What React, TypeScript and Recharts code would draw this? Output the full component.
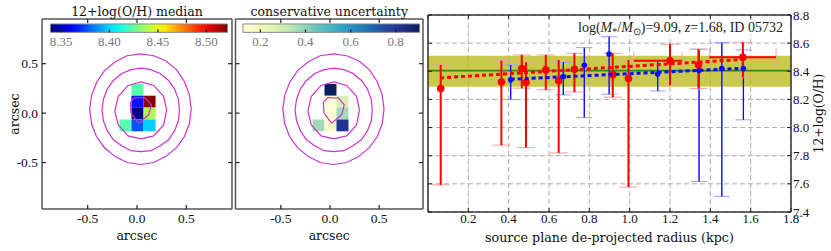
import React from "react";
import {
  ScatterChart,
  Scatter,
  XAxis,
  YAxis,
  ErrorBar,
  CartesianGrid,
  ReferenceArea,
  ReferenceLine,
  ReferenceDot,
} from "recharts";

const LABEL_FONT = "'DejaVu Serif', serif";
const NUM_FONT = "'Liberation Serif', serif";

// ---- map panels (arcsec grid) ----
const mapTicks = [-0.5, 0, 0.5];
const cellX = [0.005, 0.005, 0.127, 0.005, 0.127, -0.117, 0.005, 0.127];
const cellY = [0.235, 0.116, 0.116, -0.003, -0.003, -0.124, -0.124, -0.124];
const medianVals = [8.423, 8.365, 8.52, 8.34, 8.439, 8.423, 8.377, 8.399];
const uncertVals = [0.9, 0.14, 0.27, 0.14, 0.37, 0.37, 0.16, 0.81];
const medianCbTicks = [8.35, 8.4, 8.45, 8.5];
const uncertCbTicks = [0.2, 0.4, 0.6, 0.8];

const contourOuter: [number, number][] = [
  [0.55, 0.04], [0.53, 0.19], [0.48, 0.32], [0.4, 0.44], [0.29, 0.53], [0.17, 0.58], [0.035, 0.6],
  [-0.1, 0.58], [-0.22, 0.52], [-0.33, 0.43], [-0.41, 0.31], [-0.46, 0.18], [-0.48, 0.04],
  [-0.46, -0.11], [-0.41, -0.24], [-0.33, -0.35], [-0.22, -0.44], [-0.1, -0.5], [0.035, -0.52],
  [0.17, -0.5], [0.29, -0.44], [0.4, -0.35], [0.48, -0.24], [0.53, -0.11], [0.55, 0.04],
];
const contourMid: [number, number][] = [
  [0.43, 0.03], [0.42, 0.14], [0.38, 0.245], [0.32, 0.33], [0.235, 0.4], [0.14, 0.44], [0.04, 0.455],
  [-0.06, 0.44], [-0.155, 0.4], [-0.24, 0.33], [-0.3, 0.245], [-0.34, 0.14], [-0.355, 0.03],
  [-0.34, -0.08], [-0.3, -0.18], [-0.24, -0.27], [-0.155, -0.33], [-0.06, -0.38], [0.04, -0.39],
  [0.14, -0.38], [0.235, -0.33], [0.32, -0.27], [0.38, -0.18], [0.42, -0.08], [0.43, 0.03],
];
const contourInner: [number, number][] = [
  [0.3, 0.03], [0.27, 0.17], [0.17, 0.28], [0.04, 0.315], [-0.09, 0.28], [-0.19, 0.17],
  [-0.225, 0.02], [-0.19, -0.12], [-0.09, -0.23], [0.04, -0.26], [0.17, -0.23], [0.27, -0.12], [0.3, 0.03],
];
const contourCore: [number, number][] = [
  [-0.068, 0.107], [-0.024, 0.158], [0.087, 0.152], [0.145, 0.084], [0.118, -0.017], [0.016, -0.101], [-0.061, 0.0], [-0.068, 0.107],
];
const contours = [contourOuter, contourMid, contourInner, contourCore];

// ---- gradient panel ----
const xTicks = [0, 0.2, 0.4, 0.6, 0.8, 1.0, 1.2, 1.4, 1.6, 1.8];
const yTicks = [7.4, 7.6, 7.8, 8.0, 8.2, 8.4, 8.6, 8.8];

const redR = [0.063, 0.364, 0.465, 0.486, 0.584, 0.648, 0.726, 0.916, 0.994, 1.2, 1.341, 1.561];
const redZ = [8.277, 8.324, 8.42, 8.32, 8.41, 8.332, 8.414, 8.376, 8.348, 8.474, 8.445, 8.5];
const redHi = [8.445, 8.476, 8.516, 8.464, 8.516, 8.48, 8.528, 8.528, 8.48, 8.592, 8.557, 8.606];
const redLo = [7.593, 7.875, 8.28, 7.858, 8.268, 7.82, 8.253, 8.216, 7.577, 8.3, 8.277, 8.358];
const redRLo = [0, 0, 0, 0, 0, 0, 0, 0, 0, 1.02, 0, 1.395];
const redRHi = [0, 0, 0, 0, 0, 0, 0, 0, 0, 1.26, 0, 1.726];

const blueR = [0.41, 0.671, 0.775, 0.898, 1.139, 1.344, 1.457, 1.564];
const blueZ = [8.339, 8.362, 8.443, 8.523, 8.381, 8.405, 8.42, 8.42];
const blueHi = [8.445, 8.464, 8.568, 8.646, 8.476, 8.557, 8.604, 8.552];
const blueLo = [8.2, 8.232, 8.071, 8.237, 8.26, 7.617, 7.511, 8.055];

const fitRedR = [0.06, 1.57];
const fitRedZ = [8.353, 8.485];
const fitBlueR = [0.41, 1.57];
const fitBlueZ = [8.343, 8.422];

const medianZ = 8.405;
const bandLo = 8.29;
const bandHi = 8.51;

// ---- colour maps ----
const clamp = (v: number) => Math.max(0, Math.min(1, v));
const rgb = (r: number, g: number, b: number) =>
  `rgb(${Math.round(r * 255)},${Math.round(g * 255)},${Math.round(b * 255)})`;
const jet = (t: number) =>
  rgb(clamp(1.5 - Math.abs(4 * t - 3)), clamp(1.5 - Math.abs(4 * t - 2)), clamp(1.5 - Math.abs(4 * t - 1)));
const ylgnbuStops = ["#ffffd9", "#edf8b1", "#c7e9b4", "#7fcdbb", "#41b6c4", "#1d91c0", "#225ea8", "#253494", "#081d58"];
const hex = (h: string) => [1, 3, 5].map((i) => parseInt(h.slice(i, i + 2), 16) / 255);
const ylgnbu = (t: number) => {
  const s = clamp(t) * (ylgnbuStops.length - 1);
  const i = Math.min(Math.floor(s), ylgnbuStops.length - 2);
  const f = s - i;
  const a = hex(ylgnbuStops[i]);
  const b = hex(ylgnbuStops[i + 1]);
  return rgb(a[0] + (b[0] - a[0]) * f, a[1] + (b[1] - a[1]) * f, a[2] + (b[2] - a[2]) * f);
};
const gradSteps = Array.from({ length: 21 }, (_, i) => i / 20);

const hideTick = () => "";

interface MapPanelProps {
  left: number;
  width: number;
  margin: { top: number; right: number; bottom: number; left: number };
  leftWidth: number;
  xDomain: [number, number];
  title: string;
  values: number[];
  cmap: (t: number) => string;
  vmin: number;
  vmax: number;
  cbX: [number, number];
  cbTicks: number[];
  cbDigits: number;
  gid: string;
  showY: boolean;
}

function MapPanel(p: MapPanelProps) {
  const cbPos = (v: number) => p.cbX[0] + ((v - p.vmin) / (p.vmax - p.vmin)) * (p.cbX[1] - p.cbX[0]);
  const frame = "#555";
  const axisCommon = {
    type: "number" as const,
    allowDataOverflow: true,
    ticks: mapTicks,
    stroke: frame,
    tickSize: -4,
    tickLine: { stroke: "#222", strokeWidth: 1.2 },
  };
  return (
    <div style={{ position: "absolute", left: p.left, top: 0, fontFamily: LABEL_FONT }}>
      <ScatterChart width={p.width} height={251} margin={p.margin}>
        <defs>
          <linearGradient id={p.gid} x1="0" y1="0" x2="1" y2="0">
            {gradSteps.map((t) => (
              <stop key={t} offset={t} stopColor={p.cmap(t)} />
            ))}
          </linearGradient>
        </defs>
        <XAxis
          {...axisCommon}
          xAxisId="b"
          dataKey="x"
          domain={p.xDomain}
          height={42}
          tickMargin={8}
          strokeWidth={1.5}
          tickFormatter={(v: number) => v.toFixed(1)}
          tick={{ fill: "#111", fontSize: 13.5, fontFamily: NUM_FONT }}
          label={{ value: "arcsec", position: "insideBottom", offset: 11, fill: "#111", fontSize: 12.5 }}
        />
        <XAxis
          {...axisCommon}
          xAxisId="t"
          orientation="top"
          dataKey="x"
          domain={p.xDomain}
          height={19}
          strokeWidth={1.5}
          tickFormatter={hideTick}
          label={{ value: p.title, position: "insideTop", offset: 7, fill: "#111", fontSize: 12.5 }}
        />
        <YAxis
          {...axisCommon}
          yAxisId="l"
          dataKey="y"
          domain={[-0.97, 0.952]}
          width={p.leftWidth}
          tickMargin={8}
          strokeWidth={1.5}
          tickFormatter={p.showY ? (v: number) => v.toFixed(1) : hideTick}
          tick={{ fill: "#111", fontSize: 13.5, fontFamily: NUM_FONT }}
          label={
            p.showY
              ? { value: "arcsec", angle: -90, position: "center", dx: -6, fill: "#111", fontSize: 12.5 }
              : undefined
          }
        />
        <YAxis
          {...axisCommon}
          yAxisId="r"
          orientation="right"
          dataKey="y"
          domain={[-0.97, 0.952]}
          width={1}
          strokeWidth={1.5}
          tickFormatter={hideTick}
        />
        {cellX.map((cx, i) => (
          <ReferenceArea
            key={`c${i}`}
            xAxisId="b"
            yAxisId="l"
            x1={cx - 0.061}
            x2={cx + 0.061}
            y1={cellY[i] - 0.06}
            y2={cellY[i] + 0.06}
            fill={p.cmap((p.values[i] - p.vmin) / (p.vmax - p.vmin))}
            fillOpacity={1}
            stroke="none"
          />
        ))}
        <ReferenceArea
          xAxisId="b"
          yAxisId="l"
          x1={p.cbX[0]}
          x2={p.cbX[1]}
          y1={0.817}
          y2={0.902}
          fill={`url(#${p.gid})`}
          fillOpacity={1}
          stroke="#888"
          strokeWidth={1}
        />
        {p.cbTicks.map((v) => (
          <ReferenceLine
            key={`t${v}`}
            xAxisId="b"
            yAxisId="l"
            segment={[{ x: cbPos(v), y: 0.817 }, { x: cbPos(v), y: 0.845 }]}
            stroke="#111"
            strokeWidth={1.2}
          />
        ))}
        {p.cbTicks.map((v) => (
          <ReferenceDot
            key={`l${v}`}
            xAxisId="b"
            yAxisId="l"
            x={cbPos(v)}
            y={0.727}
            r={0}
            fill="none"
            stroke="none"
            label={{ value: v.toFixed(p.cbDigits), position: "center", fill: "#777", fontSize: 13, fontFamily: NUM_FONT }}
          />
        ))}
        {contours.map((c, i) => (
          <Scatter
            key={`k${i}`}
            xAxisId="b"
            yAxisId="l"
            data={c.map(([x, y]) => ({ x, y }))}
            line={{ stroke: "#cc33cc", strokeWidth: 1.2 }}
            shape={() => <g />}
            isAnimationActive={false}
          />
        ))}
      </ScatterChart>
    </div>
  );
}

const redPts = redR.map((r, i) => ({
  x: r,
  y: redZ[i],
  ey: [redZ[i] - redLo[i], redHi[i] - redZ[i]],
  ex: redRLo[i] ? [r - redRLo[i], redRHi[i] - r] : [0, 0],
}));
const bluePts = blueR.map((r, i) => ({
  x: r,
  y: blueZ[i],
  ey: [blueZ[i] - blueLo[i], blueHi[i] - blueZ[i]],
}));
const redFit = fitRedR.map((r, i) => ({ x: r, y: fitRedZ[i] }));
const blueFit = fitBlueR.map((r, i) => ({ x: r, y: fitBlueZ[i] }));

function GradientPanel() {
  const frame = "#333";
  const axisCommon = {
    type: "number" as const,
    allowDataOverflow: true,
    stroke: frame,
    strokeWidth: 1.5,
    tickSize: -4,
    tickLine: { stroke: "#222", strokeWidth: 1 },
  };
  return (
    <div style={{ position: "absolute", left: 424, top: 0, fontFamily: LABEL_FONT }}>
      <ScatterChart width={407} height={251} margin={{ top: 0, right: 0, bottom: 0, left: 3 }}>
        <ReferenceArea xAxisId="b" yAxisId="r" y1={bandLo} y2={bandHi} fill="#bcbc1e" fillOpacity={0.8} stroke="none" />
        <CartesianGrid xAxisId="b" yAxisId="r" stroke="#aaa" strokeDasharray="5 3" />
        <XAxis
          {...axisCommon}
          xAxisId="b"
          dataKey="x"
          domain={[0, 1.8]}
          ticks={xTicks}
          height={39}
          tickMargin={6}
          tickFormatter={(v: number) => v.toFixed(1)}
          tick={{ fill: "#111", fontSize: 13, fontFamily: NUM_FONT }}
          label={{
            value: "source plane de-projected radius (kpc)",
            position: "insideBottom",
            offset: 9,
            fill: "#111",
            fontSize: 12.7,
          }}
        />
        <XAxis {...axisCommon} xAxisId="t" orientation="top" dataKey="x" domain={[0, 1.8]} ticks={xTicks} height={15} tickFormatter={hideTick} />
        <YAxis {...axisCommon} yAxisId="l" dataKey="y" domain={[7.4, 8.8]} ticks={yTicks} width={1} tickFormatter={hideTick} />
        <YAxis
          {...axisCommon}
          yAxisId="r"
          orientation="right"
          dataKey="y"
          domain={[7.4, 8.8]}
          ticks={yTicks}
          width={40}
          tickMargin={6}
          tickFormatter={(v: number) => v.toFixed(1)}
          tick={{ fill: "#111", fontSize: 13, fontFamily: NUM_FONT }}
          label={{ value: "12+log(O/H)", angle: -90, position: "center", dx: 8, fill: "#111", fontSize: 12.3 }}
        />
        <ReferenceLine xAxisId="b" yAxisId="r" y={medianZ} stroke="#2e8b22" strokeWidth={1.8} />
        <Scatter
          xAxisId="b"
          yAxisId="r"
          data={bluePts}
          isAnimationActive={false}
          shape={(s: any) => <circle cx={s.cx} cy={s.cy} r={2.8} fill="#0a0aff" />}
        >
          <ErrorBar dataKey="ey" direction="y" width={8} stroke="#9aa0ff" strokeWidth={1} />
          <ErrorBar dataKey="ey" direction="y" width={0} stroke="#0a0aff" strokeWidth={1.3} />
        </Scatter>
        <Scatter
          xAxisId="b"
          yAxisId="r"
          data={redPts}
          isAnimationActive={false}
          shape={(s: any) => <circle cx={s.cx} cy={s.cy} r={3.8} fill="#ff0000" />}
        >
          <ErrorBar dataKey="ey" direction="y" width={9} stroke="#f5a0a0" strokeWidth={1} />
          <ErrorBar dataKey="ex" direction="x" width={9} stroke="#f5a0a0" strokeWidth={1} />
          <ErrorBar dataKey="ey" direction="y" width={0} stroke="#ff0000" strokeWidth={2} />
          <ErrorBar dataKey="ex" direction="x" width={0} stroke="#ff0000" strokeWidth={2} />
        </Scatter>
        <Scatter
          xAxisId="b"
          yAxisId="r"
          data={blueFit}
          line={{ stroke: "#0a0aff", strokeWidth: 3, strokeDasharray: "4 3" }}
          shape={() => <g />}
          isAnimationActive={false}
        />
        <Scatter
          xAxisId="b"
          yAxisId="r"
          data={redFit}
          line={{ stroke: "#ff0000", strokeWidth: 3, strokeDasharray: "4 3" }}
          shape={() => <g />}
          isAnimationActive={false}
        />
      </ScatterChart>
    </div>
  );
}

export default function App() {
  return (
    <div style={{ position: "absolute", left: 0, top: 0, width: 831, height: 251, background: "#fff", overflow: "hidden" }}>
      <MapPanel
        left={0}
        width={240}
        margin={{ top: 0, right: 7, bottom: 0, left: 0 }}
        leftWidth={42}
        xDomain={[-0.963, 0.963]}
        title="12+log(O/H) median"
        values={medianVals}
        cmap={jet}
        vmin={8.339}
        vmax={8.522}
        cbX={[-0.878, 0.918]}
        cbTicks={medianCbTicks}
        cbDigits={2}
        gid="jetGrad"
        showY
      />
      <MapPanel
        left={230}
        width={195}
        margin={{ top: 0, right: 1, bottom: 0, left: 4.5 }}
        leftWidth={1}
        xDomain={[-0.961, 0.946]}
        title="conservative uncertainty"
        values={uncertVals}
        cmap={ylgnbu}
        vmin={0.123}
        vmax={0.906}
        cbX={[-0.885, 0.912]}
        cbTicks={uncertCbTicks}
        cbDigits={1}
        gid="ylgnbuGrad"
        showY={false}
      />
      <GradientPanel />
      <div
        style={{
          position: "absolute",
          left: 577,
          top: 20.5,
          fontFamily: NUM_FONT,
          fontSize: 14,
          lineHeight: "14px",
          color: "#222",
          background: "#fff",
          whiteSpace: "nowrap",
          padding: "0 1px",
        }}
      >
        log(<i>M</i>
        <span style={{ fontSize: 10, verticalAlign: "-3px", lineHeight: 0 }}>*</span>/<i>M</i>
        <span style={{ fontSize: 10, verticalAlign: "-3px", lineHeight: 0 }}>⊙</span>)=9.09, <i>z</i>=1.68, ID 05732
      </div>
    </div>
  );
}
